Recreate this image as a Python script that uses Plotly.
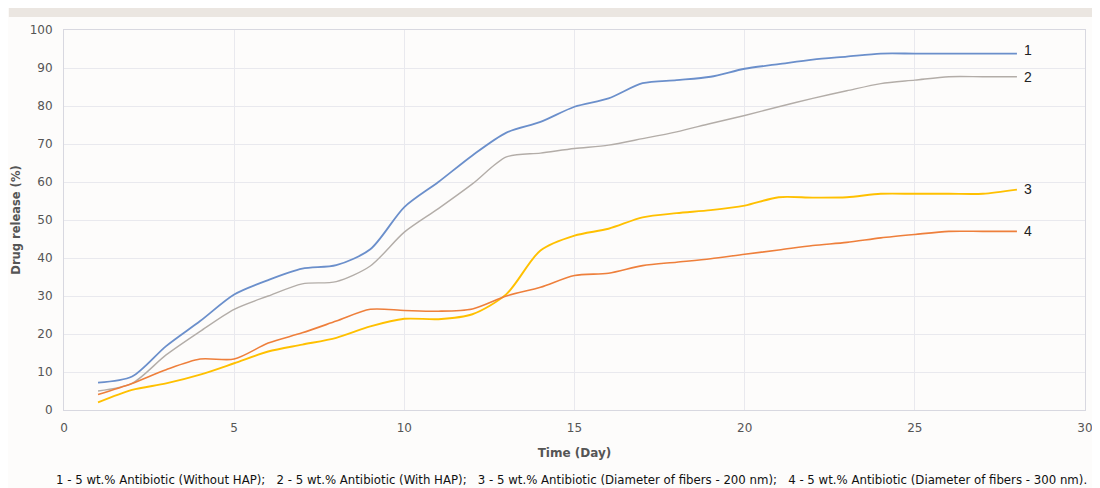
import plotly.graph_objects as go

days = list(range(1, 29))

s1_without_hap = [7.2, 8.8, 16.8, 23.4, 30.4, 34.2, 37.2, 38.1, 42.3, 53.4,
                  60.0, 67.0, 73.0, 75.8, 79.8, 82.0, 86.0, 86.8, 87.7, 89.8,
                  91.0, 92.2, 93.0, 93.8, 93.8, 93.8, 93.8, 93.8]
s2_with_hap = [5.0, 7.0, 14.5, 20.7, 26.5, 30.0, 33.2, 33.8, 37.9, 46.8,
               53.0, 59.5, 66.6, 67.6, 68.8, 69.7, 71.4, 73.2, 75.4, 77.5,
               79.8, 82.0, 84.0, 85.9, 86.8, 87.7, 87.7, 87.7]
s3_d200 = [2.0, 5.3, 7.0, 9.3, 12.3, 15.4, 17.2, 19.0, 22.0, 24.0,
           23.9, 25.2, 30.5, 42.0, 45.9, 47.7, 50.7, 51.8, 52.6, 53.8,
           56.0, 55.9, 56.0, 56.9, 56.9, 56.9, 56.9, 58.0]
s4_d300 = [4.1, 7.0, 10.6, 13.4, 13.4, 17.6, 20.3, 23.4, 26.5, 26.2,
           26.0, 26.6, 30.0, 32.3, 35.4, 36.0, 38.0, 38.9, 39.8, 41.0,
           42.1, 43.3, 44.1, 45.3, 46.2, 47.0, 47.0, 47.0]

series_names = ["1", "2", "3", "4"]
series_values = [s1_without_hap, s2_with_hap, s3_d200, s4_d300]
colors = ["#6b8fcb", "#b3ada8", "#ffc000", "#ee7f3b"]
widths = [1.8, 1.4, 1.9, 1.6]
label_yshift = [4, 0, 1, 0]

x_ticks = [0, 5, 10, 15, 20, 25, 30]
y_ticks = [0, 10, 20, 30, 40, 50, 60, 70, 80, 90, 100]

caption = ("1 - 5 wt.% Antibiotic (Without HAP);&nbsp;&nbsp; 2 - 5 wt.% Antibiotic (With HAP);&nbsp;&nbsp; "
           "3 - 5 wt.% Antibiotic (Diameter of fibers - 200 nm);&nbsp;&nbsp; "
           "4 - 5 wt.% Antibiotic (Diameter of fibers - 300 nm).")

fig = go.Figure()
for name, vals, c, w, ys in zip(series_names, series_values, colors, widths, label_yshift):
    fig.add_trace(go.Scatter(x=days, y=vals, mode="lines", name=name,
                             line=dict(color=c, width=w, shape="spline", smoothing=0.8),
                             showlegend=False, hoverinfo="x+y"))
    fig.add_annotation(x=days[-1], y=vals[-1], text=name, showarrow=False,
                       xanchor="left", xshift=5, yshift=ys,
                       font=dict(family="Liberation Sans, Arial", size=14, color="#222222"))

axis_col = "#d8d8e0"
grid_col = "#e9e9ee"
tick_font = dict(family="DejaVu Sans, Verdana", size=12, color="#555555")

fig.update_xaxes(range=[0, 30], tickvals=x_ticks, showgrid=True, gridcolor=grid_col,
                 showline=True, linecolor=axis_col, linewidth=1, mirror=True,
                 zeroline=False, tickfont=tick_font, ticks="outside", ticklen=7,
                 tickcolor="rgba(0,0,0,0)", automargin=False,
                 title=dict(text="<b>Time (Day)</b>", standoff=14,
                            font=dict(family="DejaVu Sans, Verdana", size=12, color="#555555")))
fig.update_yaxes(range=[0, 100], tickvals=y_ticks, showgrid=True, gridcolor=grid_col,
                 showline=True, linecolor=axis_col, linewidth=1, mirror=True,
                 zeroline=False, tickfont=tick_font, ticks="outside", ticklen=8,
                 tickcolor="rgba(0,0,0,0)", automargin=False,
                 title=dict(text="<b>Drug release (%)</b>", standoff=6,
                            font=dict(family="DejaVu Sans, Verdana", size=11.5, color="#555555")))

fig.add_shape(type="rect", xref="paper", yref="paper",
              x0=-0.054, x1=1.03, y0=1.034, y1=1.058,
              fillcolor="#ebe6e1", line=dict(width=0), layer="below")

fig.add_annotation(xref="paper", yref="paper", x=-0.0095, y=-0.184, xanchor="left", yanchor="middle",
                   text=caption, showarrow=False,
                   font=dict(family="DejaVu Sans, Verdana", size=11.75, color="#111111"))

fig.update_layout(width=1092, height=480,
                  margin=dict(l=56, r=15, t=22, b=78),
                  paper_bgcolor="#fdfcfb", plot_bgcolor="#fdfcfb")

fig.write_html("out.html")
